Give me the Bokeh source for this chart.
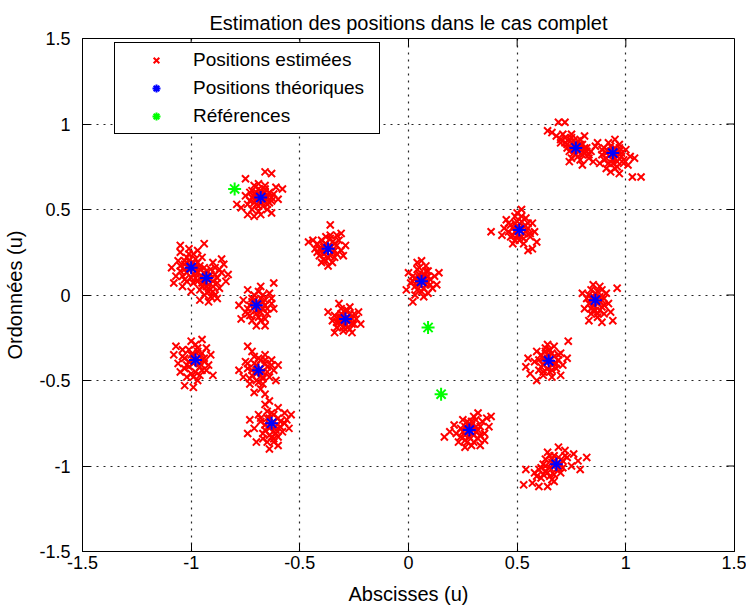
from bokeh.plotting import figure
from bokeh.models import Range1d, FixedTicker, Legend, LegendItem
from bokeh.embed import file_html
from bokeh.resources import INLINE

# ---------------- data ----------------
title_text = "Estimation des positions dans le cas complet"
x_label = "Abscisses (u)"
y_label = "Ordonnées (u)"
legend_labels = ["Positions estimées", "Positions théoriques", "Références"]

ticks = [-1.5, -1, -0.5, 0, 0.5, 1, 1.5]
tick_labels = ["-1.5", "-1", "-0.5", "0", "0.5", "1", "1.5"]
axis_min, axis_max = -1.5, 1.5

# theoretical positions (blue asterisks)
theo_x = [-0.68, -1.00, -0.93, -0.37, -0.70, 0.77, 0.94, 0.51, 0.06, 0.86,
          -0.29, -0.98, -0.69, -0.63, 0.645, 0.28, 0.68]
theo_y = [0.57, 0.16, 0.10, 0.27, -0.06, 0.86, 0.83, 0.38, 0.08, -0.03,
          -0.14, -0.38, -0.44, -0.75, -0.385, -0.79, -0.99]

# references (green asterisks)
ref_x = [-0.80, 0.09, 0.15]
ref_y = [0.62, -0.19, -0.58]

# estimated positions (red crosses), one list per cluster
est_A = [(-0.70, 0.60), (-0.66, 0.62), (-0.73, 0.55), (-0.64, 0.54), (-0.69, 0.52), (-0.62, 0.59),
         (-0.75, 0.58), (-0.67, 0.57), (-0.71, 0.64), (-0.65, 0.50), (-0.72, 0.50), (-0.61, 0.63),
         (-0.68, 0.61), (-0.74, 0.53), (-0.63, 0.57), (-0.70, 0.56), (-0.66, 0.55), (-0.72, 0.61),
         (-0.60, 0.56), (-0.69, 0.65), (-0.77, 0.51), (-0.74, 0.47), (-0.68, 0.47), (-0.63, 0.48),
         (-0.58, 0.62), (-0.66, 0.72), (-0.63, 0.71), (-0.75, 0.68), (-0.79, 0.53), (-0.71, 0.46),
         (-0.67, 0.59), (-0.70, 0.58), (-0.65, 0.57), (-0.71, 0.54), (-0.68, 0.54), (-0.66, 0.60),
         (-0.72, 0.57), (-0.69, 0.62), (-0.64, 0.60), (-0.67, 0.52), (-0.70, 0.53), (-0.73, 0.60),
         (-0.65, 0.53), (-0.68, 0.58), (-0.63, 0.55), (-0.71, 0.59), (-0.66, 0.64), (-0.69, 0.49)]
est_B = [(-1.02, 0.19), (-0.98, 0.21), (-1.05, 0.14), (-0.99, 0.12), (-1.03, 0.09), (-0.96, 0.17),
         (-1.01, 0.24), (-1.06, 0.20), (-0.97, 0.13), (-1.00, 0.17), (-1.04, 0.05), (-0.95, 0.22),
         (-1.02, 0.13), (-0.99, 0.07), (-1.07, 0.11), (-1.01, 0.27), (-0.97, 0.26), (-1.05, 0.25),
         (-1.09, 0.16), (-1.08, 0.07), (-1.05, 0.29), (-0.94, 0.30), (-1.00, 0.02), (-1.03, 0.18),
         (-0.98, 0.16), (-1.01, 0.16), (-0.99, 0.19), (-1.03, 0.15), (-0.98, 0.14), (-1.02, 0.22),
         (-1.04, 0.11), (-0.97, 0.19), (-1.00, 0.10), (-1.03, 0.20), (-0.96, 0.15), (-1.01, 0.20),
         (-1.05, 0.17), (-0.99, 0.24), (-1.02, 0.08), (-0.98, 0.10)]
est_C = [(-0.91, 0.12), (-0.95, 0.07), (-0.90, 0.05), (-0.93, 0.14), (-0.88, 0.10), (-0.96, 0.03),
         (-0.92, 0.09), (-0.89, 0.16), (-0.94, 0.00), (-0.87, 0.04), (-0.91, -0.01), (-0.95, 0.11),
         (-0.86, 0.13), (-0.90, 0.19), (-0.93, 0.05), (-0.97, 0.08), (-0.88, -0.02), (-0.84, 0.08),
         (-0.85, 0.18), (-0.83, 0.12), (-0.92, -0.04), (-0.96, -0.03), (-0.86, 0.21), (-0.92, 0.02),
         (-0.94, 0.08), (-0.92, 0.11), (-0.94, 0.13), (-0.90, 0.08), (-0.93, 0.07), (-0.89, 0.12),
         (-0.95, 0.05), (-0.91, 0.15), (-0.88, 0.07), (-0.92, 0.04), (-0.96, 0.10), (-0.90, 0.02),
         (-0.87, 0.15), (-0.94, 0.16), (-0.89, 0.00), (-0.93, 0.10)]
est_D = [(-0.38, 0.30), (-0.35, 0.25), (-0.40, 0.26), (-0.33, 0.29), (-0.37, 0.22), (-0.42, 0.30),
         (-0.36, 0.33), (-0.39, 0.21), (-0.31, 0.26), (-0.34, 0.22), (-0.41, 0.23), (-0.37, 0.27),
         (-0.43, 0.27), (-0.32, 0.32), (-0.38, 0.34), (-0.35, 0.19), (-0.30, 0.23), (-0.40, 0.19),
         (-0.44, 0.32), (-0.36, 0.41), (-0.31, 0.36), (-0.46, 0.31), (-0.29, 0.29), (-0.37, 0.17),
         (-0.33, 0.35), (-0.39, 0.28), (-0.36, 0.28), (-0.38, 0.25), (-0.35, 0.31), (-0.39, 0.29),
         (-0.34, 0.26), (-0.40, 0.32), (-0.36, 0.23), (-0.33, 0.24), (-0.41, 0.27), (-0.38, 0.20),
         (-0.34, 0.30), (-0.39, 0.24), (-0.36, 0.35), (-0.42, 0.25)]
est_E = [(-0.72, -0.04), (-0.68, -0.02), (-0.70, -0.09), (-0.66, -0.06), (-0.74, -0.08), (-0.69, 0.02),
         (-0.65, -0.11), (-0.73, -0.12), (-0.67, -0.04), (-0.71, 0.00), (-0.63, -0.02), (-0.76, -0.03),
         (-0.69, -0.13), (-0.64, 0.01), (-0.72, -0.15), (-0.66, -0.14), (-0.75, -0.10), (-0.70, -0.06),
         (-0.62, -0.08), (-0.68, 0.05), (-0.62, 0.07), (-0.78, -0.06), (-0.77, -0.14), (-0.70, -0.18),
         (-0.66, -0.18), (-0.74, 0.03), (-0.69, -0.05), (-0.71, -0.07), (-0.67, -0.08), (-0.72, -0.02),
         (-0.68, -0.10), (-0.73, -0.06), (-0.66, -0.03), (-0.70, -0.11), (-0.65, -0.08), (-0.71, -0.03),
         (-0.74, -0.11), (-0.68, -0.15), (-0.67, 0.00), (-0.63, -0.05)]
est_F = [(-0.30, -0.12), (-0.27, -0.15), (-0.32, -0.16), (-0.29, -0.09), (-0.25, -0.11), (-0.34, -0.12),
         (-0.28, -0.19), (-0.31, -0.08), (-0.26, -0.17), (-0.33, -0.19), (-0.29, -0.14), (-0.24, -0.14),
         (-0.35, -0.15), (-0.30, -0.21), (-0.27, -0.07), (-0.23, -0.10), (-0.32, -0.05), (-0.37, -0.10),
         (-0.22, -0.17), (-0.26, -0.22), (-0.34, -0.22), (-0.29, -0.17), (-0.31, -0.13), (-0.28, -0.13),
         (-0.30, -0.15), (-0.27, -0.11), (-0.31, -0.11), (-0.26, -0.14), (-0.32, -0.13), (-0.29, -0.18),
         (-0.28, -0.09), (-0.33, -0.16), (-0.25, -0.17), (-0.30, -0.19), (-0.27, -0.20), (-0.31, -0.17)]
est_G = [(-0.99, -0.35), (-0.96, -0.40), (-1.01, -0.42), (-0.97, -0.33), (-1.03, -0.37), (-0.94, -0.37),
         (-1.00, -0.46), (-0.95, -0.44), (-1.04, -0.32), (-0.98, -0.29), (-0.92, -0.41), (-1.02, -0.48),
         (-0.98, -0.38), (-1.06, -0.40), (-0.93, -0.31), (-0.97, -0.50), (-1.05, -0.45), (-0.91, -0.35),
         (-1.00, -0.27), (-0.95, -0.26), (-1.08, -0.35), (-1.07, -0.30), (-0.90, -0.47), (-1.03, -0.53),
         (-0.99, -0.54), (-0.96, -0.47), (-1.01, -0.39), (-0.97, -0.37), (-0.99, -0.40), (-1.00, -0.35),
         (-0.96, -0.42), (-1.02, -0.41), (-0.95, -0.34), (-0.98, -0.45), (-1.01, -0.32), (-0.94, -0.39),
         (-1.03, -0.43), (-0.97, -0.31), (-0.99, -0.48), (-0.93, -0.44), (-1.04, -0.36), (-0.96, -0.36)]
est_H = [(-0.70, -0.41), (-0.67, -0.45), (-0.72, -0.47), (-0.68, -0.38), (-0.65, -0.42), (-0.74, -0.43),
         (-0.69, -0.51), (-0.64, -0.48), (-0.71, -0.36), (-0.66, -0.35), (-0.75, -0.39), (-0.62, -0.44),
         (-0.73, -0.52), (-0.68, -0.55), (-0.63, -0.38), (-0.70, -0.44), (-0.76, -0.48), (-0.61, -0.50),
         (-0.74, -0.30), (-0.72, -0.33), (-0.78, -0.44), (-0.60, -0.41), (-0.66, -0.58), (-0.64, -0.62),
         (-0.71, -0.57), (-0.67, -0.49), (-0.68, -0.43), (-0.70, -0.46), (-0.71, -0.40), (-0.66, -0.40),
         (-0.67, -0.48), (-0.72, -0.44), (-0.69, -0.37), (-0.65, -0.45), (-0.73, -0.49), (-0.70, -0.50),
         (-0.63, -0.41), (-0.67, -0.52), (-0.74, -0.40), (-0.66, -0.38)]
est_I = [(-0.64, -0.72), (-0.61, -0.77), (-0.66, -0.79), (-0.62, -0.70), (-0.59, -0.74), (-0.68, -0.74),
         (-0.63, -0.83), (-0.58, -0.80), (-0.65, -0.68), (-0.60, -0.66), (-0.69, -0.70), (-0.56, -0.73),
         (-0.67, -0.84), (-0.62, -0.86), (-0.57, -0.69), (-0.64, -0.76), (-0.71, -0.78), (-0.55, -0.78),
         (-0.73, -0.73), (-0.66, -0.64), (-0.54, -0.70), (-0.60, -0.88), (-0.64, -0.90), (-0.70, -0.86),
         (-0.74, -0.81), (-0.61, -0.81), (-0.62, -0.74), (-0.64, -0.78), (-0.65, -0.72), (-0.60, -0.72),
         (-0.61, -0.79), (-0.66, -0.76), (-0.63, -0.69), (-0.59, -0.77), (-0.67, -0.81), (-0.64, -0.82),
         (-0.57, -0.75), (-0.62, -0.84), (-0.68, -0.72), (-0.60, -0.83), (-0.65, -0.86)]
est_J = [(0.05, 0.10), (0.08, 0.06), (0.03, 0.05), (0.07, 0.12), (0.10, 0.09), (0.02, 0.11),
         (0.06, 0.02), (0.09, 0.14), (0.04, 0.15), (0.11, 0.04), (0.01, 0.07), (0.06, 0.08),
         (0.08, 0.17), (0.03, 0.00), (0.12, 0.11), (0.00, 0.13), (0.07, -0.01), (0.13, 0.06),
         (0.06, 0.20), (0.04, 0.19), (-0.01, 0.03), (0.02, -0.04), (0.09, 0.01), (0.14, 0.13),
         (0.06, 0.09), (0.05, 0.06), (0.07, 0.10), (0.04, 0.08), (0.08, 0.08), (0.05, 0.12),
         (0.09, 0.11), (0.03, 0.10), (0.07, 0.04), (0.04, 0.03), (0.10, 0.06), (0.08, 0.14),
         (0.05, 0.16), (0.02, 0.08)]
est_K = [(0.50, 0.40), (0.53, 0.36), (0.48, 0.35), (0.52, 0.43), (0.55, 0.39), (0.47, 0.41),
         (0.51, 0.32), (0.54, 0.45), (0.49, 0.46), (0.56, 0.34), (0.46, 0.37), (0.51, 0.38),
         (0.53, 0.30), (0.48, 0.30), (0.57, 0.42), (0.45, 0.44), (0.50, 0.48), (0.44, 0.39),
         (0.58, 0.37), (0.38, 0.37), (0.57, 0.27), (0.55, 0.26), (0.52, 0.50), (0.43, 0.35),
         (0.59, 0.31), (0.49, 0.42), (0.51, 0.39), (0.49, 0.37), (0.53, 0.40), (0.50, 0.35),
         (0.52, 0.34), (0.48, 0.39), (0.54, 0.37), (0.50, 0.43), (0.47, 0.34), (0.55, 0.42),
         (0.52, 0.46), (0.46, 0.42), (0.53, 0.33), (0.49, 0.32), (0.56, 0.36)]
est_L = [(0.76, 0.88), (0.79, 0.85), (0.74, 0.84), (0.78, 0.90), (0.81, 0.83), (0.72, 0.89),
         (0.77, 0.82), (0.80, 0.88), (0.75, 0.92), (0.83, 0.80), (0.70, 0.91), (0.77, 0.86),
         (0.73, 0.86), (0.82, 0.86), (0.79, 0.79), (0.84, 0.84), (0.68, 0.93), (0.66, 0.95),
         (0.71, 0.94), (0.75, 0.80), (0.80, 0.76), (0.85, 0.78), (0.86, 0.87), (0.69, 1.01),
         (0.72, 1.01), (0.64, 0.96), (0.81, 0.93), (0.74, 0.78), (0.77, 0.87), (0.75, 0.86),
         (0.78, 0.84), (0.76, 0.90), (0.79, 0.88), (0.73, 0.88), (0.80, 0.82), (0.74, 0.91),
         (0.76, 0.83), (0.82, 0.84), (0.72, 0.92), (0.78, 0.81), (0.81, 0.86), (0.70, 0.89),
         (0.83, 0.82), (0.75, 0.94), (0.79, 0.91)]
est_M = [(0.93, 0.84), (0.96, 0.81), (0.91, 0.80), (0.95, 0.86), (0.98, 0.83), (0.90, 0.86),
         (0.94, 0.77), (0.97, 0.88), (0.92, 0.89), (0.99, 0.79), (0.89, 0.82), (0.94, 0.83),
         (1.00, 0.85), (0.96, 0.75), (0.91, 0.74), (1.02, 0.81), (0.88, 0.77), (0.93, 0.72),
         (0.97, 0.71), (1.01, 0.76), (1.03, 0.69), (1.07, 0.69), (0.95, 0.91), (0.87, 0.89),
         (1.04, 0.80), (0.94, 0.82), (0.92, 0.84), (0.95, 0.80), (0.93, 0.87), (0.97, 0.84),
         (0.91, 0.83), (0.96, 0.78), (0.90, 0.79), (0.98, 0.81), (0.92, 0.77), (0.95, 0.74),
         (0.99, 0.77), (0.89, 0.85), (0.94, 0.79), (0.97, 0.86)]
est_N = [(0.85, -0.01), (0.88, -0.04), (0.83, -0.05), (0.87, 0.02), (0.90, -0.02), (0.84, 0.03),
         (0.86, -0.09), (0.89, -0.07), (0.82, -0.02), (0.91, 0.01), (0.86, -0.03), (0.84, -0.11),
         (0.88, 0.05), (0.81, -0.08), (0.92, -0.05), (0.87, -0.13), (0.85, 0.06), (0.80, 0.01),
         (0.93, -0.10), (0.96, 0.04), (0.94, -0.15), (0.89, -0.16), (0.83, -0.15), (0.90, -0.11),
         (0.86, -0.02), (0.87, -0.05), (0.85, -0.06), (0.88, -0.01), (0.84, -0.02), (0.89, -0.03),
         (0.86, 0.01), (0.85, -0.09), (0.88, -0.09), (0.83, 0.00), (0.90, -0.06), (0.87, -0.11),
         (0.84, -0.08), (0.89, 0.03)]
est_O = [(0.64, -0.37), (0.67, -0.40), (0.62, -0.41), (0.66, -0.34), (0.69, -0.38), (0.61, -0.35),
         (0.65, -0.45), (0.68, -0.43), (0.63, -0.31), (0.70, -0.34), (0.60, -0.44), (0.645, -0.385),
         (0.66, -0.48), (0.71, -0.41), (0.58, -0.39), (0.62, -0.47), (0.67, -0.30), (0.59, -0.33),
         (0.73, -0.37), (0.735, -0.27), (0.54, -0.42), (0.55, -0.37), (0.59, -0.50), (0.56, -0.46),
         (0.70, -0.47), (0.64, -0.29), (0.65, -0.38), (0.63, -0.39), (0.66, -0.41), (0.64, -0.35),
         (0.67, -0.36), (0.62, -0.37), (0.64, -0.43), (0.68, -0.40), (0.61, -0.42), (0.66, -0.44),
         (0.63, -0.33), (0.69, -0.35), (0.60, -0.38), (0.65, -0.32), (0.62, -0.45)]
est_P = [(0.28, -0.77), (0.31, -0.80), (0.26, -0.82), (0.29, -0.74), (0.33, -0.77), (0.24, -0.78),
         (0.27, -0.86), (0.32, -0.84), (0.25, -0.73), (0.30, -0.71), (0.22, -0.81), (0.35, -0.81),
         (0.28, -0.79), (0.29, -0.88), (0.34, -0.74), (0.21, -0.76), (0.23, -0.86), (0.36, -0.72),
         (0.37, -0.77), (0.32, -0.69), (0.38, -0.71), (0.165, -0.83), (0.19, -0.80), (0.26, -0.89),
         (0.33, -0.88), (0.35, -0.85), (0.28, -0.78), (0.30, -0.79), (0.27, -0.80), (0.29, -0.76),
         (0.31, -0.77), (0.26, -0.77), (0.28, -0.83), (0.30, -0.82), (0.25, -0.80), (0.32, -0.79),
         (0.27, -0.74), (0.24, -0.83), (0.33, -0.82), (0.31, -0.73), (0.26, -0.85), (0.30, -0.86)]
est_Q = [(0.66, -0.98), (0.69, -1.01), (0.63, -1.03), (0.67, -0.94), (0.71, -0.97), (0.62, -0.99),
         (0.65, -1.06), (0.70, -1.04), (0.60, -1.02), (0.73, -0.95), (0.68, -0.99), (0.64, -0.92),
         (0.61, -1.07), (0.75, -1.00), (0.67, -1.09), (0.58, -1.04), (0.72, -0.91), (0.76, -0.93),
         (0.78, -0.97), (0.82, -0.95), (0.69, -0.89), (0.53, -1.11), (0.57, -1.10), (0.60, -1.12),
         (0.64, -1.12), (0.54, -1.02), (0.79, -1.02), (0.63, -0.96), (0.67, -0.99), (0.65, -1.01),
         (0.68, -1.02), (0.66, -0.96), (0.70, -0.99), (0.63, -1.00), (0.64, -1.04), (0.69, -0.95),
         (0.62, -1.05), (0.67, -1.05), (0.71, -1.01), (0.61, -1.01), (0.65, -0.94), (0.72, -0.94),
         (0.66, -1.08), (0.59, -1.06)]

clusters = [est_A, est_B, est_C, est_D, est_E, est_F, est_G, est_H, est_I,
            est_J, est_K, est_L, est_M, est_N, est_O, est_P, est_Q]
est_x = [pt[0] for cl in clusters for pt in cl]
est_y = [pt[1] for cl in clusters for pt in cl]

# ---------------- figure ----------------
FONT = "Liberation Sans"

p = figure(width=746, height=607, output_backend="svg", toolbar_location=None,
           x_range=Range1d(axis_min, axis_max), y_range=Range1d(axis_min, axis_max),
           min_border_left=82, min_border_right=12, min_border_top=38, min_border_bottom=56,
           background_fill_color="white", border_fill_color="white")

p.title.text = title_text
p.title.align = "center"
p.title.text_font = FONT
p.title.text_font_size = "20px"
p.title.text_font_style = "normal"
p.title.text_color = "black"
p.title.text_line_height = 0.6
p.title.standoff = 10

p.outline_line_color = "black"
p.outline_line_width = 1

overrides = {t: l for t, l in zip(ticks, tick_labels)}

for ax in (p.xaxis[0], p.yaxis[0]):
    ax.ticker = FixedTicker(ticks=ticks)
    ax.major_label_overrides = overrides
    ax.major_tick_in = 8
    ax.major_tick_out = 0
    ax.minor_tick_line_color = None
    ax.axis_line_color = "black"
    ax.major_tick_line_color = "black"
    ax.major_label_text_font = FONT
    ax.major_label_text_font_size = "18px"
    ax.major_label_text_color = "black"
    ax.axis_label_text_font = FONT
    ax.axis_label_text_font_size = "20px"
    ax.axis_label_text_font_style = "normal"
    ax.axis_label_text_color = "black"

p.xaxis[0].axis_label = x_label
p.xaxis[0].major_label_standoff = 4
p.xaxis[0].axis_label_standoff = 11
p.yaxis[0].axis_label = y_label
p.yaxis[0].major_label_standoff = 12
p.yaxis[0].axis_label_standoff = 10

for g in (p.xgrid[0], p.ygrid[0]):
    g.ticker = FixedTicker(ticks=ticks)
    g.grid_line_color = "black"
    g.grid_line_dash = "2 5"
    g.grid_line_width = 1.2
    g.grid_line_alpha = 0.85

# inner ticks on the top and right edges of the box
n = len(ticks)
p.ray(x=ticks, y=[axis_max] * n, length=8, length_units="screen", angle=-90,
      angle_units="deg", line_color="black", line_width=1)
p.ray(x=[axis_max] * n, y=ticks, length=8, length_units="screen", angle=180,
      angle_units="deg", line_color="black", line_width=1)

r_est = p.scatter(est_x, est_y, marker="x", size=10, line_color="#ff0000", line_width=2)
r_theo = p.scatter(theo_x, theo_y, marker="asterisk", size=13, line_color="#0000ff", line_width=2)
r_ref = p.scatter(ref_x, ref_y, marker="asterisk", size=13, line_color="#00ff00", line_width=2)

legend = Legend(items=[LegendItem(label=legend_labels[0], renderers=[r_est]),
                       LegendItem(label=legend_labels[1], renderers=[r_theo]),
                       LegendItem(label=legend_labels[2], renderers=[r_ref])],
                location=(32, 417), margin=0, padding=6, spacing=6,
                glyph_width=70, glyph_height=20, label_height=20, label_width=180,
                label_standoff=2,
                label_text_font=FONT, label_text_font_size="19px", label_text_color="black",
                border_line_color="black", border_line_width=1, border_line_alpha=1,
                background_fill_color="white", background_fill_alpha=1)
p.add_layout(legend)

open("out.html", "w").write(file_html(p, INLINE))
